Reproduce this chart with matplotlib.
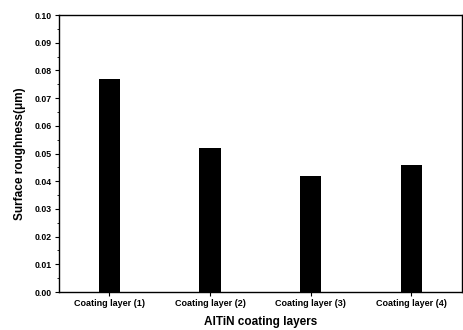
import numpy as np
import matplotlib
matplotlib.use('Agg')
import matplotlib.pyplot as plt
from matplotlib.ticker import MultipleLocator

matplotlib.rcParams['font.family'] = 'Liberation Sans'
matplotlib.rcParams['font.weight'] = 'bold'

# 数据
layers = ['Coating layer (1)', 'Coating layer (2)', 'Coating layer (3)', 'Coating layer (4)']
roughness = [0.077, 0.052, 0.042, 0.046]

fig = plt.figure(figsize=(4.63, 3.30), dpi=100)
ax = fig.add_axes([0.1274, 0.115, 0.870, 0.8395])

x = np.arange(1, len(layers) + 1)
ax.bar(x, roughness, width=0.21, color='black')

ax.set_xlim(0.5, 4.5)
ax.set_ylim(0, 0.10)
ax.set_xticks(x)
ax.set_xticklabels(layers, fontsize=6.5, fontweight='bold')
ax.yaxis.set_major_locator(MultipleLocator(0.01))
ax.yaxis.set_minor_locator(MultipleLocator(0.005))
ax.set_yticklabels(['%.2f' % v for v in ax.get_yticks()], fontsize=6.3, fontweight='bold')
ax.tick_params(axis='both', which='major', length=3, width=0.8, pad=2)
ax.tick_params(axis='y', which='minor', length=1.5, width=0.6)

ax.set_xlabel('AlTiN coating layers', fontsize=8.5, fontweight='bold', labelpad=6)
ax.set_ylabel('Surface roughness(\u03bcm)', fontsize=8.5, fontweight='bold', labelpad=6)

for s in ax.spines.values():
    s.set_linewidth(1.0)

fig.savefig('out.png', dpi=100)
